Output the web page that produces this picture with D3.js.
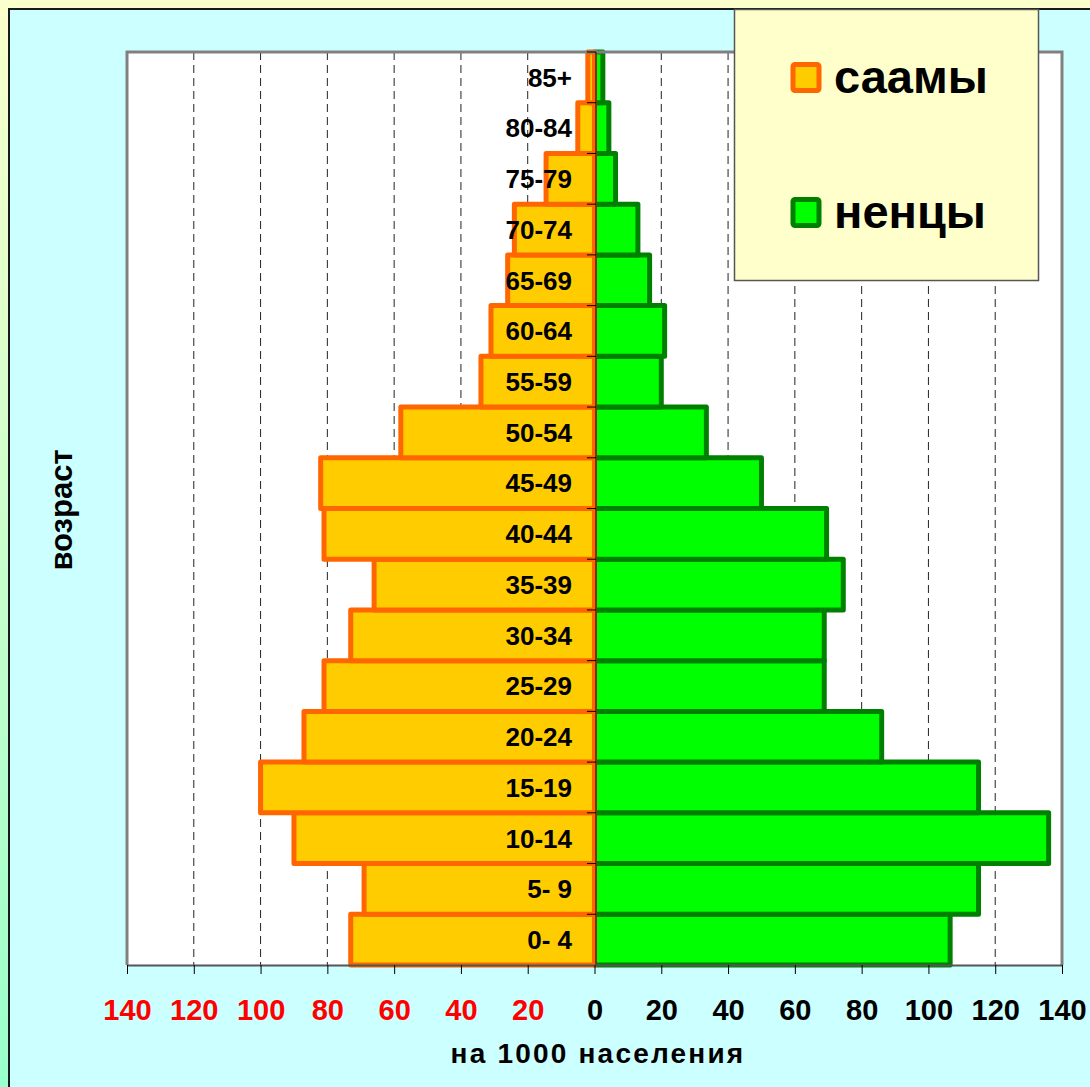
<!DOCTYPE html>
<html lang="ru">
<head>
<meta charset="utf-8">
<title>Половозрастная пирамида: саамы и ненцы</title>
<script src="https://d3js.org/d3.v7.min.js"></script>
<style>
    html, body { margin: 0; padding: 0; }
    body { width: 1090px; height: 1087px; overflow: hidden; }
    svg text { font-family: Arial, "Liberation Sans", sans-serif; font-weight: bold; }
</style>
</head>
<body>
<div id="chart"></div>
<script>
// age groups, bottom to top
var ages = ["0- 4", "5- 9", "10-14", "15-19", "20-24", "25-29", "30-34", "35-39", "40-44",
            "45-49", "50-54", "55-59", "60-64", "65-69", "70-74", "75-79", "80-84", "85+"];
// per 1000 population
var saamy   = [73, 69, 90, 100, 87, 81, 73, 66, 81, 82, 58, 34, 31, 26, 24, 14.5, 5, 2];
var nentsy  = [106.5, 115, 136, 115, 86, 68.8, 68.8, 74.5, 69.5, 50, 33.5, 20, 21, 16.5, 13, 6.3, 4.3, 2.5];
var ticksAll = [-140, -120, -100, -80, -60, -40, -20, 0, 20, 40, 60, 80, 100, 120, 140];
var seriesNames = ["саамы", "ненцы"];

var W = 1090, H = 1087;
var plotL = 127, plotR = 1062, plotT = 52, plotB = 965;

var svg = d3.select("#chart").append("svg")
    .attr("width", W).attr("height", H);

var defs = svg.append("defs");
var grad = defs.append("linearGradient").attr("id", "bg")
    .attr("x1", 0).attr("y1", 0).attr("x2", 0).attr("y2", 1);
grad.append("stop").attr("offset", "0%").attr("stop-color", "#fbffcc");
grad.append("stop").attr("offset", "100%").attr("stop-color", "#99ffcc");

svg.append("rect").attr("width", W).attr("height", H).attr("fill", "url(#bg)");
svg.append("rect").attr("x", 9).attr("y", 9).attr("width", W + 20).attr("height", H + 20)
    .attr("fill", "#ccffff").attr("stroke", "#1a1a1a").attr("stroke-width", 2);

var x = d3.scaleLinear().domain([-140, 140]).range([plotL, plotR]);
var y = d3.scaleBand().domain(ages).range([plotB, plotT]).padding(0);

// plot area
svg.append("rect").attr("x", plotL).attr("y", plotT)
    .attr("width", plotR - plotL).attr("height", plotB - plotT)
    .attr("fill", "#ffffff");

// dashed gridlines
var gridVals = ticksAll.filter(function(d) { return d !== 0 && Math.abs(d) !== 140; });
svg.append("g").selectAll("line").data(gridVals).enter().append("line")
    .attr("x1", function(d) { return x(d); }).attr("x2", function(d) { return x(d); })
    .attr("y1", plotT).attr("y2", plotB)
    .attr("stroke", "#222").attr("stroke-width", 1).attr("stroke-dasharray", "8,5");

// nentsy bars (right)
svg.append("g").selectAll("rect").data(ages).enter().append("rect")
    .attr("x", x(0))
    .attr("y", function(d) { return y(d); })
    .attr("width", function(d, i) { return x(nentsy[i]) - x(0); })
    .attr("height", y.bandwidth())
    .attr("fill", "#00ff00").attr("stroke", "#008000").attr("stroke-width", 5)
    .attr("stroke-linejoin", "round");

// saamy bars (left)
svg.append("g").selectAll("rect").data(ages).enter().append("rect")
    .attr("x", function(d, i) { return x(-saamy[i]); })
    .attr("y", function(d) { return y(d); })
    .attr("width", function(d, i) { return x(0) - x(-saamy[i]); })
    .attr("height", y.bandwidth())
    .attr("fill", "#ffcc00").attr("stroke", "#ff6600").attr("stroke-width", 5)
    .attr("stroke-linejoin", "round");

// plot border (top, left, right)
svg.append("path")
    .attr("d", "M" + plotL + "," + plotB + "V" + plotT + "H" + plotR + "V" + plotB)
    .attr("fill", "none").attr("stroke", "#808080").attr("stroke-width", 3);

// vertical axis at zero with ticks at band boundaries
var yAxisG = svg.append("g").attr("transform", "translate(" + (x(0) + 1.5) + ",0)");
yAxisG.append("line").attr("y1", plotT).attr("y2", plotB).attr("stroke", "#000").attr("stroke-width", 1);
yAxisG.selectAll("line.tk").data(ages).enter().append("line").attr("class", "tk")
    .attr("x1", -9).attr("x2", 0)
    .attr("y1", function(d) { return y(d); }).attr("y2", function(d) { return y(d); })
    .attr("stroke", "#000").attr("stroke-width", 1);

// category labels
svg.append("g").selectAll("text").data(ages).enter().append("text")
    .attr("x", 572)
    .attr("y", function(d) { return y(d) + y.bandwidth() / 2; })
    .attr("dy", "0.36em")
    .attr("text-anchor", "end")
    .attr("font-size", 26)
    .attr("fill", "#000")
    .text(function(d) { return d; });

// x axis
var xAxis = d3.axisBottom(x)
    .tickValues(ticksAll)
    .tickSize(9).tickSizeOuter(0)
    .tickFormat(function(d) { return Math.abs(d); });
var xg = svg.append("g").attr("transform", "translate(0," + plotB + ")").call(xAxis);
xg.select(".domain").attr("stroke", "#555").attr("stroke-width", 2);
xg.selectAll(".tick line").attr("stroke", "#000");
xg.selectAll(".tick text")
    .attr("y", 34)
    .attr("dy", "0.71em")
    .attr("font-size", 29)
    .attr("font-family", "Arial, 'Liberation Sans', sans-serif")
    .attr("font-weight", "bold")
    .attr("fill", function(d) { return d < 0 ? "#ff0000" : "#000"; });

// axis titles
svg.append("text")
    .attr("x", 598).attr("y", 1063)
    .attr("text-anchor", "middle")
    .attr("font-size", 28)
    .attr("letter-spacing", 2.2)
    .text("на 1000 населения");

svg.append("text")
    .attr("transform", "translate(72,510) rotate(-90)")
    .attr("text-anchor", "middle")
    .attr("font-size", 31)
    .text("возраст");

// legend
var lg = svg.append("g");
lg.append("rect").attr("x", 734.5).attr("y", 9.5).attr("width", 304).attr("height", 271)
    .attr("fill", "#ffffcc").attr("stroke", "#555").attr("stroke-width", 1.5);
var legendFill = ["#ffcc00", "#00ff00"], legendStroke = ["#ff6600", "#008000"];
var legendY = [77.5, 212.5];
seriesNames.forEach(function(name, i) {
    lg.append("rect")
        .attr("x", 793).attr("y", legendY[i] - 13)
        .attr("width", 26).attr("height", 26)
        .attr("rx", 2)
        .attr("fill", legendFill[i]).attr("stroke", legendStroke[i]).attr("stroke-width", 5);
    lg.append("text")
        .attr("x", 834).attr("y", legendY[i] + 15)
        .attr("font-size", 47)
        .attr("fill", "#000")
        .text(name);
});
</script>
</body>
</html>
